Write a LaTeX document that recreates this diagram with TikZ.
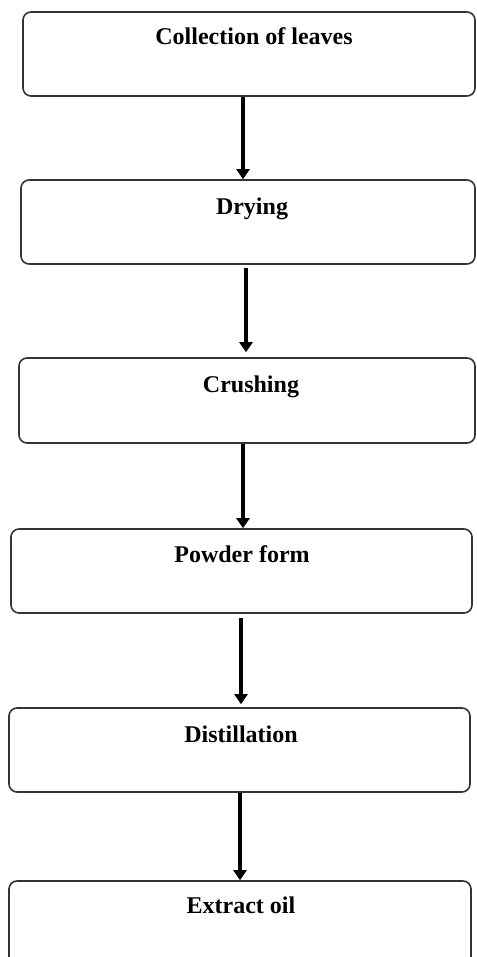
\documentclass[tikz,border=0pt]{standalone}
\usepackage{fontspec}
\setmainfont{Liberation Serif}
\usetikzlibrary{arrows.meta}
\tikzset{
  box/.style={draw=black!80, line width=1.6pt, rounded corners=8pt, inner sep=0pt},
  lbl/.style={anchor=base, inner sep=0pt, font=\fontsize{24}{26}\selectfont\bfseries},
  arr/.style={line width=3.4pt, -{Triangle[length=10pt,width=13pt]}}
}
\begin{document}
\begin{tikzpicture}[x=1pt,y=-1pt]
\useasboundingbox (0,0) rectangle (476,957);
\clip (0,0) rectangle (476,957);
\node[box, minimum width=452pt, minimum height=84pt] (b1) at (249,54) {};
\node[box, minimum width=454pt, minimum height=84pt] (b2) at (248,222) {};
\node[box, minimum width=456pt, minimum height=85pt] (b3) at (247,400.5) {};
\node[box, minimum width=461pt, minimum height=84pt] (b4) at (241.5,571) {};
\node[box, minimum width=461pt, minimum height=84pt] (b5) at (239.5,750) {};
\node[box, minimum width=462pt, minimum height=90pt] (b6) at (240,926) {};
\node[lbl] (t1) at (254,45) {Collection of leaves};
\node[lbl] (t2) at (252,215) {Drying};
\node[lbl] (t3) at (251,392) {Crushing};
\node[lbl] (t4) at (242,562) {Powder form};
\node[lbl] (t5) at (241,742) {Distillation};
\node[lbl] (t6) at (241,913) {Extract oil};
\draw[arr] ([xshift=-6pt]b1.south) -- ([xshift=-5pt]b2.north);
\draw[arr, shorten <=3pt, shorten >=5pt] ([xshift=-2pt]b2.south) -- ([xshift=-1pt]b3.north);
\draw[arr] ([xshift=-4pt]b3.south) -- ([xshift=1.5pt]b4.north);
\draw[arr, shorten <=4pt, shorten >=3pt] ([xshift=-0.5pt]b4.south) -- ([xshift=1.5pt]b5.north);
\draw[arr] ([xshift=0.5pt]b5.south) -- ([xshift=0pt]b6.north);
\end{tikzpicture}
\end{document}
